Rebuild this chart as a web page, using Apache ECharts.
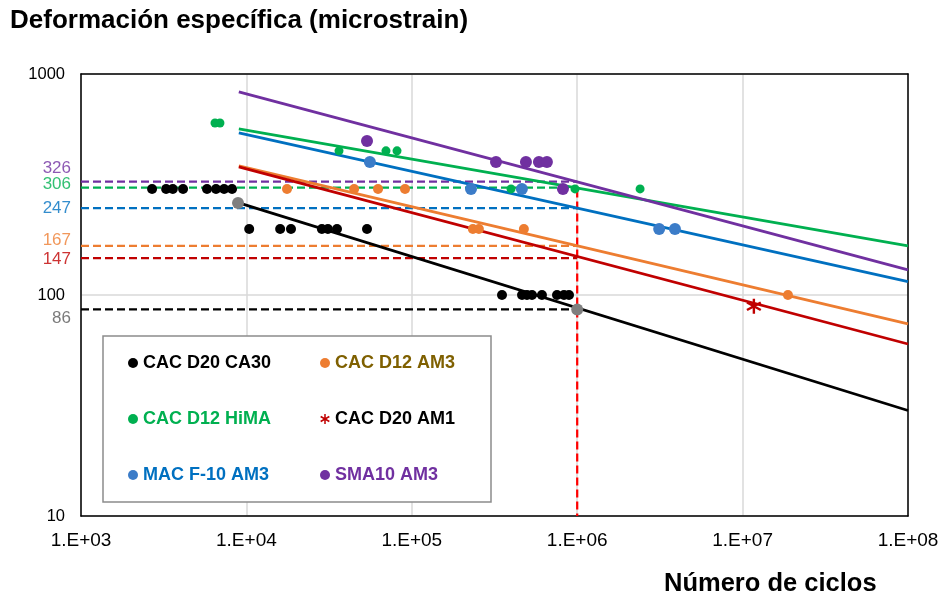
<!DOCTYPE html>
<html>
<head>
<meta charset="utf-8">
<script src="https://cdn.jsdelivr.net/npm/echarts@6/dist/echarts.min.js"></script>
<style>
  html, body { margin: 0; padding: 0; background: #fff; }
  #chart { width: 944px; height: 598px; }
</style>
</head>
<body>
<div id="chart"></div>
<script>
// valores (ciclos, microstrain)
const ca30X = [2690, 3270, 3590, 4140, 5780, 6550, 7330, 8190,
               10400, 16000, 18600, 28600, 31100, 35300, 53600,
               351000, 464000, 497000, 533000, 612000, 755000, 832000, 892000];
const ca30Y = [302, 302, 302, 302, 302, 302, 302, 302,
               199, 199, 199, 199, 199, 199, 199,
               100, 100, 100, 100, 100, 100, 100, 100];
const grayX = [8900, 1000000];
const grayY = [261, 86];
const am3X = [17600, 44800, 62500, 91000, 234000, 254500, 476000, 18800000];
const am3Y = [302, 302, 302, 302, 199, 199, 199, 100];
const himaX = [6460, 6920, 36300, 69800, 81400, 398000, 970000, 2400000];
const himaY = [600, 600, 449, 449, 449, 302, 302, 302];
const am1X = [11700000];
const am1Y = [89];
const macX = [55800, 228000, 463000, 3130000, 3900000];
const macY = [400, 302, 302, 199, 199];
const smaX = [53600, 323000, 490000, 587000, 656000, 820000];
const smaY = [498, 400, 400, 400, 400, 302];

// lineas de tendencia: [inicio, fin]
const trendX = [9000, 100000000];
const trendCA30 = [261, 30];
const trendAM3 = [384, 74];
const trendHiMA = [564, 167];
const trendAM1 = [380, 60];
const trendMAC = [541, 115];
const trendSMA = [830, 130];

// niveles a 1E+06 ciclos
const levelValues = [326, 306, 247, 167, 147, 86];
const levelColors = ['#7030A0', '#00B050', '#0070C0', '#ED7D31', '#C00000', '#000000'];
const levelLabelColors = ['#7030A0', '#00B050', '#0070C0', '#ED7D31', '#C00000', '#595959'];
const levelLabelShift = [-13, -3, 0, -5, 1, 9];

const FONT = '"Liberation Sans", Arial, sans-serif';

function pairs(xs, ys) {
    return xs.map((x, i) => [x, ys[i]]);
}

// asterisco de 6 brazos (relleno)
const asterisk = 'path://M-1.5 -10L1.5 -10L1.5 10L-1.5 10Z' +
    'M-7.91 -6.3L9.41 3.7L7.91 6.3L-9.41 -3.7Z' +
    'M-9.41 3.7L7.91 -6.3L9.41 -3.7L-7.91 6.3Z';

let chart = echarts.init(document.getElementById('chart'));

let series = [];

// lineas de nivel discontinuas
levelValues.forEach((v, i) => {
    series.push({
        name: 'nivel' + v,
        type: 'line',
        data: [[1000, v], [1000000, v]],
        showSymbol: false,
        lineStyle: {color: levelColors[i], width: 2.25, type: [8, 4]},
        z: 1,
        silent: true
    });
});
series.push({
    name: 'vertical',
    type: 'line',
    data: [[1000000, 300], [1000000, 10]],
    showSymbol: false,
    lineStyle: {color: '#FF0000', width: 2.25, type: [8, 4]},
    z: 1,
    silent: true
});

// etiquetas de nivel
series.push({
    name: 'etiquetas',
    type: 'scatter',
    symbolSize: 0,
    clip: false,
    silent: true,
    data: levelValues.map((v, i) => ({
        value: [1000, v],
        label: {color: levelLabelColors[i], offset: [0, levelLabelShift[i]]}
    })),
    label: {
        show: true,
        position: 'left',
        distance: 10,
        fontFamily: FONT,
        fontSize: 17,
        formatter: p => p.value[1]
    }
});

// tendencias
const trends = [
    ['tCA30', trendCA30, '#000000'],
    ['tAM3', trendAM3, '#ED7D31'],
    ['tHiMA', trendHiMA, '#00B050'],
    ['tAM1', trendAM1, '#C00000'],
    ['tMAC', trendMAC, '#0070C0'],
    ['tSMA', trendSMA, '#7030A0']
];
trends.forEach(t => {
    series.push({
        name: t[0],
        type: 'line',
        data: pairs(trendX, t[1]),
        showSymbol: false,
        lineStyle: {color: t[2], width: 2.75},
        z: 2,
        silent: true
    });
});

// puntos
series.push(
    {name: 'CAC D20 CA30', type: 'scatter', data: pairs(ca30X, ca30Y), symbolSize: 10,
        itemStyle: {color: '#000000', opacity: 1}, z: 3},
    {name: 'CAC D12 AM3', type: 'scatter', data: pairs(am3X, am3Y), symbolSize: 10,
        itemStyle: {color: '#ED7D31', opacity: 1}, z: 3},
    {name: 'CAC D12 HiMA', type: 'scatter', data: pairs(himaX, himaY), symbolSize: 9,
        itemStyle: {color: '#00B050', opacity: 1}, z: 3},
    {name: 'CAC D20 AM1', type: 'scatter', data: pairs(am1X, am1Y), symbol: asterisk, symbolSize: 15,
        itemStyle: {color: '#C00000', opacity: 1}, z: 3},
    {name: 'MAC F-10 AM3', type: 'scatter', data: pairs(macX, macY), symbolSize: 12,
        itemStyle: {color: '#3B7CC8', opacity: 1}, z: 3},
    {name: 'SMA10 AM3', type: 'scatter', data: pairs(smaX, smaY), symbolSize: 12,
        itemStyle: {color: '#7030A0', opacity: 1}, z: 3},
    {name: 'gris', type: 'scatter', data: pairs(grayX, grayY), symbolSize: 12,
        itemStyle: {color: '#7F7F7F', opacity: 1}, z: 4}
);

const legendText = {fontFamily: FONT, fontSize: 18, fontWeight: 'bold', lineHeight: 18};

let option = {
    animation: false,
    backgroundColor: '#ffffff',
    title: [
        {
            text: 'Deformación específica (microstrain)',
            left: 10, top: 8, padding: 0,
            textStyle: {fontFamily: FONT, fontSize: 26, fontWeight: 'bold', color: '#000'}
        },
        {
            text: 'Número de ciclos',
            left: 664, top: 571, padding: 0,
            textStyle: {fontFamily: FONT, fontSize: 25.5, fontWeight: 'bold', color: '#000'}
        }
    ],
    grid: {
        left: 81, right: 36, top: 74, bottom: 82,
        show: false
    },
    legend: [
        {
            orient: 'vertical', left: 128, top: 354, padding: 0,
            itemWidth: 10, itemHeight: 10, itemGap: 38,
            textStyle: legendText,
            data: [
                {name: 'CAC D20 CA30', icon: 'circle', textStyle: {color: '#000000'}},
                {name: 'CAC D12 HiMA', icon: 'circle', textStyle: {color: '#00B050'}},
                {name: 'MAC F-10 AM3', icon: 'circle', textStyle: {color: '#0070C0'}}
            ]
        },
        {
            orient: 'vertical', left: 320, top: 354, padding: 0,
            itemWidth: 10, itemHeight: 10, itemGap: 38,
            textStyle: legendText,
            data: [
                {name: 'CAC D12 AM3', icon: 'circle', textStyle: {color: '#7F6000'}},
                {name: 'CAC D20 AM1', icon: asterisk, textStyle: {color: '#000000'}},
                {name: 'SMA10 AM3', icon: 'circle', textStyle: {color: '#7030A0'}}
            ]
        }
    ],
    graphic: [{
        type: 'rect',
        z: 3,
        shape: {x: 103, y: 336, width: 388, height: 166},
        style: {fill: '#ffffff', stroke: '#8C8C8C', lineWidth: 1.5}
    }],
    xAxis: [
        {
            type: 'log', logBase: 10, min: 1000, max: 100000000,
            axisLine: {lineStyle: {color: '#000', width: 1.5}},
            axisTick: {show: false},
            splitLine: {show: true, lineStyle: {color: '#D9D9D9', width: 1.5}},
            axisLabel: {
                color: '#000', fontFamily: FONT, fontSize: 19, margin: 15,
                formatter: v => '1.E+0' + Math.round(Math.log10(v))
            }
        },
        {
            // borde superior
            type: 'log', logBase: 10, min: 1000, max: 100000000, position: 'top',
            axisLine: {show: true, lineStyle: {color: '#000', width: 1.5}},
            axisTick: {show: false}, axisLabel: {show: false}, splitLine: {show: false}
        }
    ],
    yAxis: [
        {
            type: 'log', logBase: 10, min: 10, max: 1000,
            axisLine: {show: true, lineStyle: {color: '#000', width: 1.5}},
            axisTick: {show: false},
            splitLine: {show: true, lineStyle: {color: '#D9D9D9', width: 1.5}},
            axisLabel: {color: '#000', fontFamily: FONT, fontSize: 16.5, margin: 16,
                formatter: v => String(Math.round(v))}
        },
        {
            // borde derecho
            type: 'log', logBase: 10, min: 10, max: 1000, position: 'right',
            axisLine: {show: true, lineStyle: {color: '#000', width: 1.5}},
            axisTick: {show: false}, axisLabel: {show: false}, splitLine: {show: false}
        }
    ],
    series: series
};

chart.setOption(option);
</script>
</body>
</html>
